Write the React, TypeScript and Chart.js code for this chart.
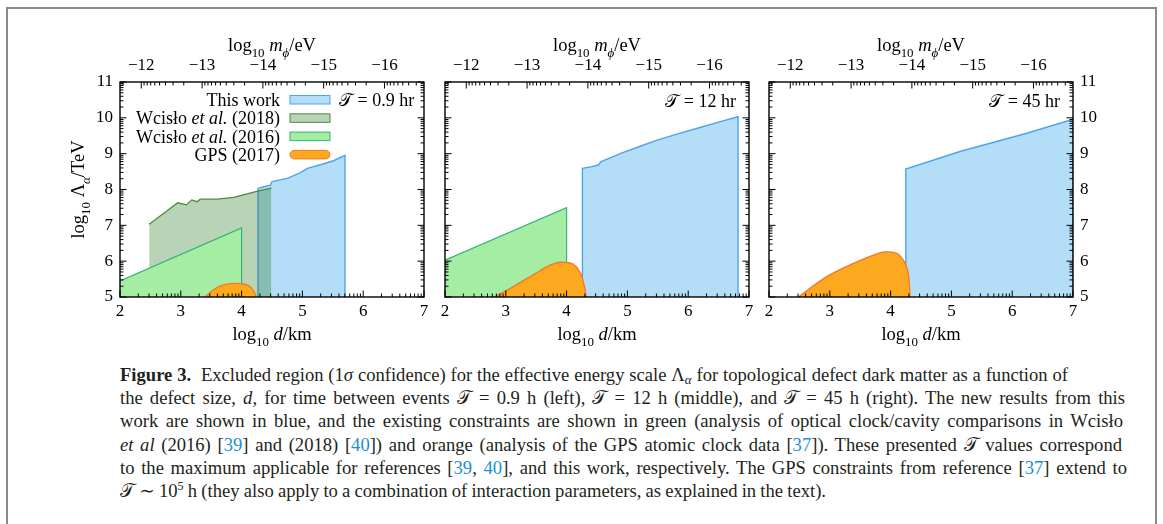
import React, { useEffect, useLayoutEffect, useRef } from "react";
import { Chart, registerables } from "chart.js";
Chart.register(...registerables);

// ---------- axis ticks ----------
const X_TICKS = [2, 3, 4, 5, 6, 7];
const Y_TICKS = [5, 6, 7, 8, 9, 10, 11];
const MASS_TICKS = [-12, -13, -14, -15, -16];
const MASS_OFFSET = 9.65; // log10 m/eV = -(log10 d/km + offset)

// ---------- panel A : T = 0.9 hr ----------
const A_BLUE_D = [4.27, 4.27, 4.35, 4.475, 4.5, 4.75, 4.97, 5.08, 5.3, 5.52, 5.7, 5.7];
const A_BLUE_L = [5, 8.03, 8.07, 8.12, 8.22, 8.31, 8.47, 8.59, 8.69, 8.81, 8.95, 5];
const A_W18_D = [2.48, 2.95, 3.09, 3.18, 3.27, 3.32, 3.6, 3.87, 3.98, 4.09, 4.28, 4.49];
const A_W18_L = [7.03, 7.63, 7.57, 7.71, 7.66, 7.73, 7.73, 7.78, 7.83, 7.88, 7.96, 8.04];
const A_W16_D = [2.0, 4.0, 4.0];
const A_W16_L = [5.45, 6.93, 5.0];
const A_GPS_D = [3.4, 3.54, 3.65, 3.76, 3.87, 4.01, 4.12, 4.18, 4.22, 4.24];
const A_GPS_L = [5.0, 5.2, 5.31, 5.36, 5.38, 5.37, 5.31, 5.21, 5.1, 5.0];

// ---------- panel B : T = 12 hr ----------
const B_BLUE_D = [4.26, 4.26, 4.4, 4.53, 4.56, 4.89, 5.2, 5.49, 5.8, 6.15, 6.5, 6.82, 6.82];
const B_BLUE_L = [5, 8.59, 8.63, 8.69, 8.77, 9.01, 9.2, 9.38, 9.54, 9.71, 9.88, 10.03, 5];
const B_W16_D = [2.0, 4.0, 4.0];
const B_W16_L = [6.03, 7.49, 5.0];
const B_GPS_D = [2.81, 3.0, 3.35, 3.55, 3.73, 3.9, 4.06, 4.15, 4.2, 4.25, 4.28, 4.31, 4.32];
const B_GPS_L = [5.0, 5.17, 5.52, 5.72, 5.89, 5.97, 5.95, 5.86, 5.75, 5.58, 5.38, 5.15, 5.0];

// ---------- panel C : T = 45 hr ----------
const C_BLUE_D = [4.25, 4.25, 5.14, 6.24, 7.0, 7.0];
const C_BLUE_L = [5, 8.57, 9.06, 9.57, 9.96, 5];
const C_GPS_D = [2.48, 2.95, 3.39, 3.72, 3.91, 4.1, 4.21, 4.26, 4.29, 4.31, 4.32];
const C_GPS_L = [5.0, 5.57, 5.94, 6.17, 6.26, 6.22, 6.03, 5.85, 5.66, 5.35, 5.0];

const LEGEND_LABELS = [
  [{ t: "This work" }],
  [{ t: "Wcisło " }, { t: "et al.", it: true }, { t: " (2018)" }],
  [{ t: "Wcisło " }, { t: "et al.", it: true }, { t: " (2016)" }],
  [{ t: "GPS (2017)" }],
];
const LEGEND_KINDS = ["blue", "w18", "w16", "gps"];

// caption line right-end widths (from the caption's left edge)
const CAPTION_WIDTHS = [948, 1005, 1003, 1002, 1007, 706];

const FONT = "'Liberation Serif', 'DejaVu Serif', serif";

type Seg = { t: string; it?: boolean; sub?: boolean };

const STYLE: Record<string, any> = {
  blue: { bg: "#b4def8", border: "#4ca3f0", bw: 1.4, order: 3, tension: 0 },
  w18: { bg: "rgba(40,120,30,0.33)", border: "#4d8a3f", bw: 1.3, order: 2, tension: 0 },
  w16: { bg: "#a6eda4", border: "#2fb577", bw: 1.2, order: 1, tension: 0 },
  gps: { bg: "#fca91f", border: "#f2782c", bw: 1.3, order: 0, tension: 0.35 },
};

function zip(d: number[], l: number[]) {
  return d.map((x, i) => ({ x, y: l[i] }));
}

function segFont(s: Seg, size: number) {
  const sz = s.sub ? size * 0.7 : size;
  return `${s.it ? "italic " : ""}${sz}px ${FONT}`;
}
function richWidth(ctx: CanvasRenderingContext2D, segs: Seg[], size: number) {
  let w = 0;
  for (const s of segs) {
    ctx.font = segFont(s, size);
    w += ctx.measureText(s.t).width;
  }
  return w;
}
function drawRich(ctx: CanvasRenderingContext2D, segs: Seg[], x: number, y: number, size: number, align: string) {
  const w = richWidth(ctx, segs, size);
  let cx = align === "center" ? x - w / 2 : align === "right" ? x - w : x;
  ctx.textBaseline = "alphabetic";
  ctx.textAlign = "left";
  ctx.fillStyle = "#000";
  for (const s of segs) {
    ctx.font = segFont(s, size);
    ctx.fillText(s.t, cx, s.sub ? y + size * 0.3 : y);
    cx += ctx.measureText(s.t).width;
  }
}

function minorVals(lo: number, hi: number, from: number, to: number) {
  const out: number[] = [];
  for (let i = from; i <= to; i++) {
    for (let k = 2; k <= 9; k++) {
      const v = i + Math.log10(k);
      if (v > lo && v < hi) out.push(v);
    }
  }
  return out;
}

const CW = 464;
const CH = 340;

function makePlugin(cfg: any) {
  return {
    id: "decor",
    afterDraw(chart: any) {
      const ctx: CanvasRenderingContext2D = chart.ctx;
      const { left, right, top, bottom } = chart.chartArea;
      const sx = chart.scales.x;
      const sy = chart.scales.y;
      const sm = chart.scales.x2;
      ctx.save();
      ctx.strokeStyle = "#000";
      ctx.lineWidth = 1;
      const tick = (x1: number, y1: number, x2: number, y2: number) => {
        ctx.beginPath();
        ctx.moveTo(x1, y1);
        ctx.lineTo(x2, y2);
        ctx.stroke();
      };
      const MAJ = 6.5, MIN = 3.5;
      X_TICKS.forEach((v) => { const p = sx.getPixelForValue(v); tick(p, bottom, p, bottom - MAJ); });
      minorVals(2, 7, 1, 7).forEach((v) => { const p = sx.getPixelForValue(v); tick(p, bottom, p, bottom - MIN); });
      MASS_TICKS.forEach((v) => { const p = sm.getPixelForValue(v); tick(p, top, p, top + MAJ); });
      minorVals(sm.min, sm.max, -18, -11).forEach((v) => { const p = sm.getPixelForValue(v); tick(p, top, p, top + MIN); });
      Y_TICKS.forEach((v) => {
        const p = sy.getPixelForValue(v);
        tick(left, p, left + MAJ, p);
        tick(right, p, right - MAJ, p);
      });
      minorVals(5, 11, 4, 11).forEach((v) => {
        const p = sy.getPixelForValue(v);
        tick(left, p, left + MIN, p);
        tick(right, p, right - MIN, p);
      });
      ctx.lineWidth = 1.4;
      ctx.strokeRect(left, top, right - left, bottom - top);

      const cxm = (left + right) / 2;
      drawRich(ctx, [{ t: "log" }, { t: "10", sub: true }, { t: " " }, { t: "d", it: true }, { t: "/km" }], cxm, bottom + 43, 18.5, "center");
      drawRich(ctx, [{ t: "log" }, { t: "10", sub: true }, { t: " " }, { t: "m", it: true }, { t: "ϕ", it: true, sub: true }, { t: "/eV" }], cxm, top - 31, 18.5, "center");
      if (cfg.yTitle) {
        ctx.save();
        ctx.translate(left - 36, (top + bottom) / 2);
        ctx.rotate(-Math.PI / 2);
        drawRich(ctx, [{ t: "log" }, { t: "10", sub: true }, { t: " Λ" }, { t: "α", it: true, sub: true }, { t: "/TeV" }], 0, 0, 18.5, "center");
        ctx.restore();
      }
      if (cfg.legend) {
        drawRich(ctx, [{ t: "𝒯" }, { t: " = " + cfg.tText }], left + 219, top + 24, 18, "left");
        LEGEND_LABELS.forEach((segs, i) => {
          const base = top + 24 + i * 18.3;
          drawRich(ctx, segs as Seg[], left + 160, base, 18, "right");
          const st = STYLE[LEGEND_KINDS[i]];
          const x0 = left + 170, w = 40, h = 8.5, y0 = base - 10.5;
          ctx.fillStyle = st.bg;
          ctx.strokeStyle = st.border;
          ctx.lineWidth = 1;
          if (LEGEND_KINDS[i] === "gps") {
            ctx.beginPath();
            ctx.moveTo(x0 + h / 2, y0);
            ctx.lineTo(x0 + w - h / 2, y0);
            ctx.arc(x0 + w - h / 2, y0 + h / 2, h / 2, -Math.PI / 2, Math.PI / 2);
            ctx.lineTo(x0 + h / 2, y0 + h);
            ctx.arc(x0 + h / 2, y0 + h / 2, h / 2, Math.PI / 2, Math.PI * 1.5);
            ctx.fill();
            ctx.stroke();
          } else {
            ctx.fillRect(x0, y0, w, h);
            ctx.strokeRect(x0, y0, w, h);
          }
        });
      } else {
        drawRich(ctx, [{ t: "𝒯" }, { t: " = " + cfg.tText }], right - 13, top + 25, 18, "right");
      }
      ctx.restore();
    },
  };
}

function Panel(props: any) {
  const ref = useRef<HTMLCanvasElement>(null);
  useEffect(() => {
    const { series, yPos } = props;
    const datasets = series.map((s: any) => {
      const st = STYLE[s.kind];
      return {
        data: zip(s.d, s.l),
        borderColor: st.border,
        backgroundColor: st.bg,
        borderWidth: st.bw,
        fill: "start",
        pointRadius: 0,
        tension: st.tension,
        cubicInterpolationMode: s.kind === "gps" ? "monotone" : "default",
        order: st.order,
      };
    });
    const tickFont = { family: FONT, size: 17 };
    const chart = new Chart(ref.current as HTMLCanvasElement, {
      type: "line",
      data: { datasets },
      options: {
        animation: false,
        responsive: false,
        events: [],
        layout: {
          padding: {
            top: 22,
            bottom: 23,
            left: yPos === "right" ? 80 : 40,
            right: yPos === "right" ? 40 : 80,
          },
        },
        plugins: { legend: { display: false }, tooltip: { enabled: false } },
        scales: {
          x: {
            type: "linear",
            position: "bottom",
            min: 2,
            max: 7,
            afterBuildTicks: (s: any) => { s.ticks = X_TICKS.map((v) => ({ value: v })); },
            afterFit: (s: any) => { s.height = 40; },
            grid: { display: false, drawTicks: false },
            border: { display: false },
            ticks: { font: tickFont, color: "#000", padding: 4, maxRotation: 0, autoSkip: false },
          },
          x2: {
            type: "linear",
            position: "top",
            reverse: true,
            min: -(7 + MASS_OFFSET),
            max: -(2 + MASS_OFFSET),
            afterBuildTicks: (s: any) => { s.ticks = MASS_TICKS.map((v) => ({ value: v })); },
            afterFit: (s: any) => { s.height = 40; },
            grid: { display: false, drawTicks: false },
            border: { display: false },
            ticks: {
              font: tickFont,
              color: "#000",
              padding: 6,
              maxRotation: 0,
              autoSkip: false,
              callback: (v: any) => "\u2212" + Math.abs(Number(v)),
            },
          },
          y: {
            type: "linear",
            position: yPos === "right" ? "right" : "left",
            min: 5,
            max: 11,
            afterBuildTicks: (s: any) => { s.ticks = Y_TICKS.map((v) => ({ value: v })); },
            afterFit: (s: any) => { s.width = 40; },
            grid: { display: false, drawTicks: false },
            border: { display: false },
            ticks: { display: yPos !== "none", font: tickFont, color: "#000", padding: 7, autoSkip: false },
          },
        },
      } as any,
      plugins: [makePlugin(props)],
    });
    return () => chart.destroy();
  }, []);
  return (
    <canvas
      ref={ref}
      width={CW}
      height={CH}
      style={{ position: "absolute", left: props.plotLeft - 80, top: 20, width: CW, height: CH }}
    />
  );
}

const REF = { color: "#1b8fd9" };
const T = "𝒯";

export default function App() {
  const lineRefs = useRef<(HTMLSpanElement | null)[]>([]);
  useLayoutEffect(() => {
    lineRefs.current.forEach((el, i) => {
      if (!el) return;
      el.style.wordSpacing = "0px";
      const w = el.getBoundingClientRect().width;
      const n = ((el.textContent || "").match(/[ \u00a0]/g) || []).length;
      if (n > 0) el.style.wordSpacing = (CAPTION_WIDTHS[i] - w) / n + "px";
    });
  }, []);
  const sub = { fontSize: "0.7em", verticalAlign: "-0.25em", lineHeight: 0 } as any;
  const L = (i: number) => (el: HTMLSpanElement | null) => { lineRefs.current[i] = el; };
  return (
    <div style={{ position: "absolute", left: 0, top: 0, width: 1163, height: 524, background: "#fff", overflow: "hidden" }}>
      <div
        style={{
          position: "absolute",
          left: 6,
          top: 7,
          width: 1147,
          height: 600,
          borderLeft: "2px solid #8a8a8a",
          borderTop: "2px solid #8a8a8a",
          borderRight: "2px solid #8a8a8a",
        }}
      />
      <Panel
        plotLeft={120}
        yPos="left"
        yTitle
        legend
        tText="0.9 hr"
        series={[
          { kind: "blue", d: A_BLUE_D, l: A_BLUE_L },
          { kind: "w18", d: A_W18_D, l: A_W18_L },
          { kind: "w16", d: A_W16_D, l: A_W16_L },
          { kind: "gps", d: A_GPS_D, l: A_GPS_L },
        ]}
      />
      <Panel
        plotLeft={445}
        yPos="none"
        tText="12 hr"
        series={[
          { kind: "blue", d: B_BLUE_D, l: B_BLUE_L },
          { kind: "w16", d: B_W16_D, l: B_W16_L },
          { kind: "gps", d: B_GPS_D, l: B_GPS_L },
        ]}
      />
      <Panel
        plotLeft={769}
        yPos="right"
        tText="45 hr"
        series={[
          { kind: "blue", d: C_BLUE_D, l: C_BLUE_L },
          { kind: "gps", d: C_GPS_D, l: C_GPS_L },
        ]}
      />
      <div
        style={{
          position: "absolute",
          left: 120,
          top: 363,
          font: `18.6px ${FONT}`,
          lineHeight: "23.2px",
          whiteSpace: "nowrap",
          color: "#231f20",
        }}
      >
        <div>
          <span ref={L(0)}>
            <b>Figure 3.</b>&nbsp; Excluded region (1<i>σ</i> confidence) for the effective energy scale Λ<span style={sub}><i>α</i></span> for topological defect dark matter as a function of
          </span>
        </div>
        <div>
          <span ref={L(1)}>
            the defect size, <i>d</i>, for time between events {T} = 0.9&nbsp;h (left), {T} = 12&nbsp;h (middle), and {T} = 45&nbsp;h (right). The new results from this
          </span>
        </div>
        <div>
          <span ref={L(2)}>
            work are shown in blue, and the existing constraints are shown in green (analysis of optical clock/cavity comparisons in Wcisło
          </span>
        </div>
        <div>
          <span ref={L(3)}>
            <i>et al</i> (2016) [<span style={REF}>39</span>] and (2018) [<span style={REF}>40</span>]) and orange (analysis of the GPS atomic clock data [<span style={REF}>37</span>]). These presented {T} values correspond
          </span>
        </div>
        <div>
          <span ref={L(4)}>
            to the maximum applicable for references [<span style={REF}>39</span>, <span style={REF}>40</span>], and this work, respectively. The GPS constraints from reference [<span style={REF}>37</span>] extend to
          </span>
        </div>
        <div>
          <span ref={L(5)}>
            {T} ∼ 10<sup style={{ fontSize: "0.65em", lineHeight: 0 }}>5</sup>&nbsp;h (they also apply to a combination of interaction parameters, as explained in the text).
          </span>
        </div>
      </div>
    </div>
  );
}
